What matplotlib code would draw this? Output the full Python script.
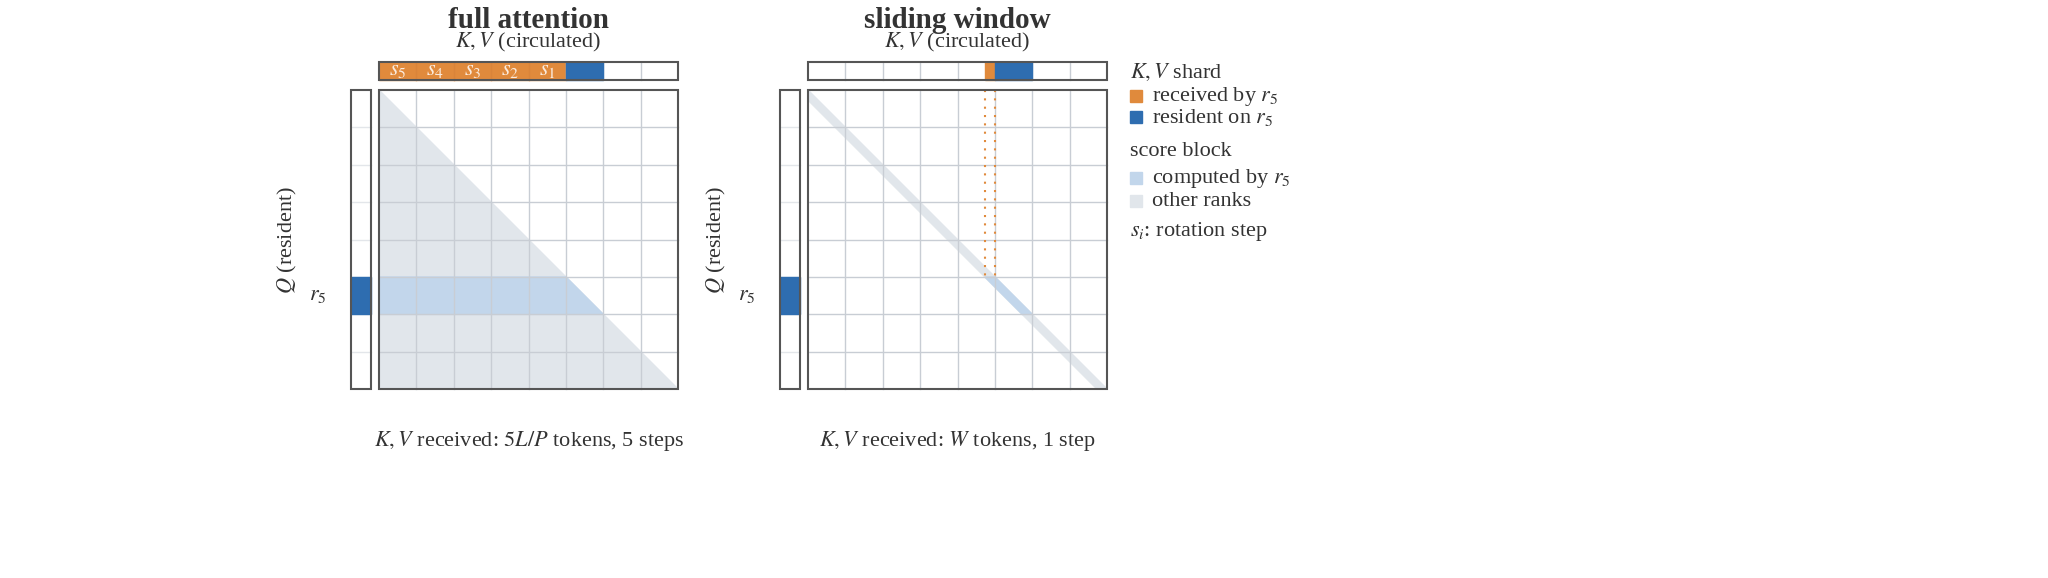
import numpy as np
from matplotlib import pyplot as plt
from matplotlib.patches import Rectangle, Polygon

plt.rcParams['font.family'] = ['Liberation Serif', 'DejaVu Serif']
plt.rcParams['mathtext.fontset'] = 'stix'

#数据
n_blocks = 8
rank = 5
steps = ['$s_5$', '$s_4$', '$s_3$', '$s_2$', '$s_1$']
window = 0.27
titles = ['full attention', 'sliding window']
bottom_texts = ['$K, V$ received: $5L/P$ tokens, 5 steps', '$K, V$ received: $W$ tokens, 1 step']
legend_items = [('head', '$K, V$ shard'), ('#E08A3C', 'received by $r_5$'), ('#2E6DB0', 'resident on $r_5$'),
                ('head', 'score block'), ('#C2D6EB', 'computed by $r_5$'), ('#E1E6EB', 'other ranks'),
                ('head', '$s_i$: rotation step')]
legend_y = [72, 96, 117, 152, 178, 201, 232]

ORANGE = '#E08A3C'
BLUE = '#2E6DB0'
LIGHT = '#C2D6EB'
GRAY = '#E1E6EB'
GRID = '#C8CDD4'
EDGE = '#555555'
TXT = '#333333'

W, H = 2048, 578
fig = plt.figure(figsize=(20.48, 5.78), dpi=100)
cell = 37.4

#建立面板坐标轴
def make_axes(x0):
    xl, xr = -3, 9
    yt, yb = -2.4, 10.5
    left = x0 + cell * xl
    ax = fig.add_axes([left / W, 1 - (90 + cell * yb) / H, cell * (xr - xl) / W, cell * (yb - yt) / H])
    ax.set_xlim(xl, xr)
    ax.set_ylim(yb, yt)
    ax.axis('off')
    return ax

#画网格和边框
def frame(ax, bar_grid):
    n = n_blocks
    for i in range(1, n):
        ax.plot([i, i], [0, n], color=GRID, lw=1, zorder=3)
        ax.plot([0, n], [i, i], color=GRID, lw=1, zorder=3)
        ax.plot([i, i], [-0.75, -0.27], color=bar_grid[i], lw=1, zorder=3)
        ax.plot([-0.75, -0.21], [i, i], color='#E3E6EA', lw=1, zorder=3)
    ax.add_patch(Rectangle((0, 0), n, n, fill=False, ec=EDGE, lw=1.5, zorder=5))
    ax.add_patch(Rectangle((0, -0.75), n, 0.48, fill=False, ec=EDGE, lw=1.5, zorder=5))
    ax.add_patch(Rectangle((-0.75, 0), 0.54, n, fill=False, ec=EDGE, lw=1.5, zorder=5))
    ax.add_patch(Rectangle((-0.75, rank), 0.54, 1, color=BLUE, zorder=4))
    ax.add_patch(Rectangle((rank, -0.75), 1, 0.48, color=BLUE, zorder=4))
    ax.text(-1.63, rank + 0.5, '$r_5$', fontsize=16, ha='center', va='center', color=TXT)
    ax.text(-2.45, n / 2, '$Q$ (resident)', fontsize=16, rotation=90, ha='center', va='center', color=TXT)

def labels(ax, i):
    ax.text(4, -1.85, titles[i], fontsize=21, fontweight='bold', ha='center', va='center', color=TXT)
    ax.text(4, -1.26, '$K, V$ (circulated)', fontsize=16, ha='center', va='center', color=TXT)
    ax.text(4, 9.38, bottom_texts[i], fontsize=16, ha='center', va='center', color=TXT)

#全注意力
def full_attention():
    ax = make_axes(379)
    n = n_blocks
    ax.add_patch(Polygon([(0, 0), (n, n), (0, n)], color=GRAY, zorder=1))
    ax.add_patch(Polygon([(0, rank), (rank, rank), (rank + 1, rank + 1), (0, rank + 1)], color=LIGHT, zorder=2))
    for j, s in enumerate(steps):
        ax.add_patch(Rectangle((j, -0.75), 1, 0.48, color=ORANGE, zorder=2))
        ax.text(j + 0.5, -0.51, s, fontsize=16, ha='center', va='center', color='#FBEBDD', zorder=6)
    frame(ax, ['#D9843A'] * rank + [GRID] * (n - rank))
    labels(ax, 0)

#滑动窗口
def sliding_window():
    ax = make_axes(808)
    n = n_blocks
    w = window
    ax.add_patch(Polygon([(0, 0), (n, n), (n - w, n), (0, w)], color=GRAY, zorder=1))
    ax.add_patch(Polygon([(rank - w, rank), (rank, rank), (rank + 1, rank + 1), (rank + 1 - w, rank + 1)],
                         color=LIGHT, zorder=2))
    ax.add_patch(Rectangle((rank - w, -0.75), w, 0.48, color=ORANGE, zorder=4))
    for x in [rank - w, rank]:
        ax.plot([x, x], [0, rank + 0.1], color=ORANGE, lw=1.5, ls=(0, (1, 3)), zorder=4)
    frame(ax, [GRID] * n)
    labels(ax, 1)

#图例
def legend():
    for (c, t), y in zip(legend_items, legend_y):
        if c == 'head':
            fig.text(1130 / W, 1 - y / H, t, fontsize=16, va='center', ha='left', color=TXT)
        else:
            fig.patches.append(Rectangle((1130 / W, 1 - (y + 6) / H), 12 / W, 12 / H, color=c,
                                         transform=fig.transFigure, figure=fig))
            fig.text(1152 / W, 1 - y / H, t, fontsize=16, va='center', ha='left', color=TXT)

full_attention()
sliding_window()
legend()
fig.savefig('out.png', dpi=100)
